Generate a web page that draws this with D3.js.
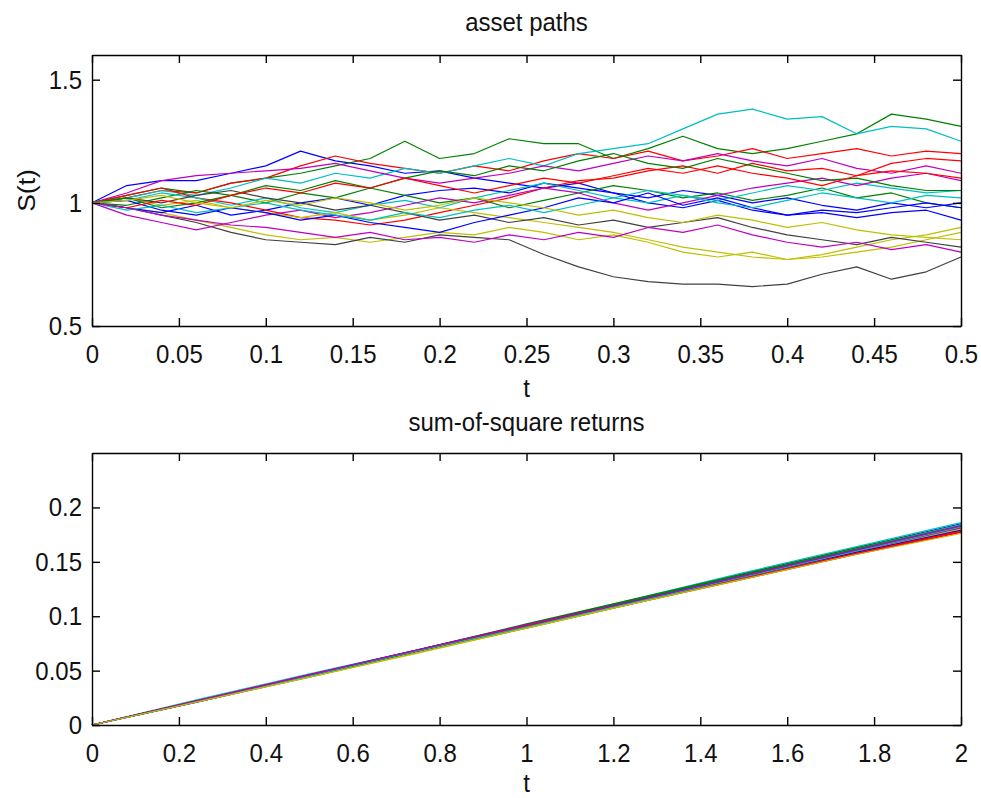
<!DOCTYPE html>
<html>
<head>
<meta charset="utf-8">
<script src="https://cdn.jsdelivr.net/npm/d3@7"></script>
<style>
  html, body { margin: 0; padding: 0; background: #fff; }
  svg { display: block; }
  text { font-family: "Liberation Sans", Arial, sans-serif; fill: #111; }
</style>
</head>
<body>
<svg id="chart" width="981" height="798"></svg>
<script>
// time grid of the asset paths (read every 0.02)
const tAsset = [0, 0.02, 0.04, 0.06, 0.08, 0.1, 0.12, 0.14, 0.16, 0.18, 0.2, 0.22, 0.24,
  0.26, 0.28, 0.3, 0.32, 0.34, 0.36, 0.38, 0.4, 0.42, 0.44, 0.46, 0.48, 0.5];

// S(t) for each of the 20 paths
const assetPaths = [
  [1.0, 1.07, 1.09, 1.09, 1.12, 1.15, 1.21, 1.17, 1.15, 1.12, 1.13, 1.10, 1.08, 1.06, 1.08, 1.04, 1.02, 1.05, 1.03, 1.00, 1.02, 0.99, 0.97, 1.00, 0.98, 1.00],
  [1.0, 1.03, 1.06, 1.04, 1.08, 1.1, 1.12, 1.15, 1.18, 1.25, 1.18, 1.2, 1.26, 1.24, 1.24, 1.18, 1.22, 1.27, 1.22, 1.2, 1.22, 1.25, 1.28, 1.36, 1.34, 1.31],
  [1.0, 1.02, 1.05, 1.04, 1.08, 1.1, 1.15, 1.19, 1.16, 1.14, 1.12, 1.15, 1.13, 1.17, 1.2, 1.18, 1.21, 1.17, 1.19, 1.22, 1.18, 1.2, 1.22, 1.19, 1.21, 1.20],
  [1.0, 1.02, 1.05, 1.03, 1.06, 1.1, 1.08, 1.12, 1.1, 1.14, 1.12, 1.15, 1.18, 1.15, 1.2, 1.22, 1.24, 1.3, 1.36, 1.38, 1.34, 1.35, 1.28, 1.31, 1.30, 1.25],
  [1.0, 1.04, 1.09, 1.11, 1.12, 1.13, 1.14, 1.16, 1.13, 1.1, 1.08, 1.1, 1.12, 1.15, 1.13, 1.16, 1.19, 1.17, 1.2, 1.17, 1.15, 1.18, 1.14, 1.12, 1.15, 1.12],
  [1.0, 0.98, 0.96, 0.93, 0.9, 0.87, 0.85, 0.86, 0.84, 0.86, 0.88, 0.87, 0.9, 0.88, 0.85, 0.87, 0.84, 0.8, 0.78, 0.8, 0.77, 0.79, 0.82, 0.85, 0.87, 0.90],
  [1.0, 0.98, 0.95, 0.92, 0.88, 0.85, 0.84, 0.83, 0.86, 0.84, 0.87, 0.86, 0.85, 0.79, 0.74, 0.70, 0.68, 0.67, 0.67, 0.66, 0.67, 0.71, 0.74, 0.69, 0.72, 0.78],
  [1.0, 0.98, 0.96, 0.99, 0.95, 0.97, 1.0, 1.02, 0.99, 1.03, 1.05, 1.06, 1.04, 1.08, 1.06, 1.04, 1.0, 0.98, 1.01, 0.97, 0.95, 0.96, 0.94, 0.96, 0.97, 0.93],
  [1.0, 0.99, 1.02, 1.05, 1.03, 1.0, 1.04, 1.02, 1.06, 1.03, 1.0, 1.02, 0.98, 1.01, 1.04, 1.07, 1.05, 1.02, 1.04, 1.01, 1.03, 1.06, 1.02, 1.04, 1.0, 0.98],
  [1.0, 1.03, 1.06, 1.02, 1.0, 0.97, 0.94, 0.93, 0.91, 0.93, 0.96, 0.99, 1.02, 1.06, 1.09, 1.1, 1.13, 1.15, 1.12, 1.16, 1.13, 1.14, 1.11, 1.16, 1.18, 1.17],
  [1.0, 1.01, 1.04, 1.02, 0.99, 1.02, 0.98, 0.96, 0.99, 1.01, 0.98, 1.02, 1.05, 1.08, 1.05, 1.02, 1.0, 1.03, 1.01, 1.04, 1.07, 1.05, 1.08, 1.06, 1.04, 1.05],
  [1.0, 0.95, 0.92, 0.89, 0.92, 0.95, 0.97, 0.94, 0.96, 0.99, 1.02, 1.0, 1.03, 1.06, 1.04, 1.0, 0.97, 1.0, 1.03, 1.06, 1.08, 1.1, 1.07, 1.1, 1.12, 1.09],
  [1.0, 1.02, 0.99, 1.01, 0.98, 0.96, 0.94, 0.96, 0.93, 0.95, 0.98, 0.96, 0.94, 0.92, 0.9, 0.88, 0.85, 0.82, 0.8, 0.78, 0.77, 0.78, 0.8, 0.82, 0.85, 0.88],
  [1.0, 1.02, 1.0, 1.03, 1.05, 1.02, 1.0, 0.97, 0.99, 0.96, 0.93, 0.95, 0.92, 0.94, 0.91, 0.93, 0.9, 0.92, 0.94, 0.9, 0.87, 0.85, 0.83, 0.86, 0.84, 0.82],
  [1.0, 1.01, 0.97, 0.95, 0.98, 0.96, 0.93, 0.95, 0.92, 0.90, 0.88, 0.92, 0.95, 0.98, 1.02, 1.0, 1.04, 0.99, 1.02, 0.98, 0.95, 0.97, 0.96, 0.98, 1.0, 0.98],
  [1.0, 1.02, 0.98, 1.0, 1.03, 1.07, 1.05, 1.09, 1.06, 1.1, 1.13, 1.11, 1.15, 1.13, 1.17, 1.2, 1.16, 1.14, 1.18, 1.15, 1.12, 1.09, 1.1, 1.07, 1.05, 1.05],
  [1.0, 0.98, 1.01, 0.99, 1.03, 1.06, 1.04, 1.08, 1.06, 1.1, 1.07, 1.04, 1.07, 1.1, 1.08, 1.11, 1.14, 1.12, 1.15, 1.12, 1.1, 1.07, 1.11, 1.13, 1.12, 1.10],
  [1.0, 0.97, 0.99, 0.96, 0.98, 1.0, 0.97, 0.95, 0.93, 0.96, 0.94, 0.97, 0.99, 0.96, 0.99, 1.02, 1.05, 1.03, 1.0, 0.98, 1.01, 1.04, 1.02, 1.0, 1.03, 1.02],
  [1.0, 0.98, 0.95, 0.93, 0.91, 0.9, 0.88, 0.86, 0.88, 0.85, 0.86, 0.84, 0.87, 0.85, 0.88, 0.86, 0.9, 0.88, 0.91, 0.87, 0.84, 0.82, 0.84, 0.81, 0.83, 0.80],
  [1.0, 1.01, 1.03, 1.0, 0.98, 1.01, 0.99, 1.02, 1.0, 0.97, 0.99, 1.02, 1.0, 0.98, 0.95, 0.97, 0.94, 0.92, 0.95, 0.93, 0.9, 0.92, 0.89, 0.87, 0.86, 0.85]
];

// time grid of the sum-of-square returns
const tSumSq = [0, 0.25, 0.5, 0.75, 1, 1.25, 1.5, 1.75, 2];

const sumSqPaths = [
  [0, .023, .046, .069, .092, .115, .139, .162, .185],
  [0, .022, .045, .068, .090, .113, .136, .158, .180],
  [0, .023, .045, .067, .090, .114, .136, .157, .178],
  [0, .024, .047, .069, .092, .116, .140, .163, .186],
  [0, .022, .044, .067, .090, .112, .135, .157, .179],
  [0, .023, .046, .068, .091, .114, .137, .160, .182],
  [0, .022, .045, .068, .091, .113, .136, .158, .181],
  [0, .023, .045, .068, .090, .113, .137, .160, .183],
  [0, .023, .046, .069, .093, .116, .139, .162, .184],
  [0, .022, .045, .067, .089, .112, .134, .156, .177],
  [0, .023, .046, .068, .091, .115, .138, .161, .184],
  [0, .023, .045, .068, .091, .114, .136, .159, .181],
  [0, .022, .044, .067, .089, .112, .135, .158, .180],
  [0, .023, .046, .069, .092, .115, .138, .160, .182],
  [0, .022, .045, .068, .091, .114, .136, .158, .179],
  [0, .023, .045, .068, .091, .115, .138, .161, .183],
  [0, .023, .046, .068, .091, .113, .135, .157, .178],
  [0, .022, .045, .068, .090, .113, .136, .159, .182],
  [0, .023, .046, .069, .092, .114, .137, .160, .183],
  [0, .022, .044, .066, .089, .112, .134, .156, .176]
];

// matlab default colour order: b g r c m y k
const lineColors = ['#0000ff', '#008000', '#ff0000', '#00bfbf', '#bf00bf', '#bfbf00', '#404040'];

const topXTicks = [0, 0.05, 0.1, 0.15, 0.2, 0.25, 0.3, 0.35, 0.4, 0.45, 0.5];
const topYTicks = [0.5, 1, 1.5];
const botXTicks = [0, 0.2, 0.4, 0.6, 0.8, 1, 1.2, 1.4, 1.6, 1.8, 2];
const botYTicks = [0, 0.05, 0.1, 0.15, 0.2];

// picture is stretched vertically, so draw in a squashed viewBox
const SY = 1.1;
const W = 981, H = 798 / SY;
const svg = d3.select('#chart')
  .attr('viewBox', `0 0 ${W} ${H}`)
  .attr('preserveAspectRatio', 'none');

const left = 92, right = 961;
const tickX = 8, tickY = 8 / SY;

function drawPanel(o) {
  const x = d3.scaleLinear().domain(o.xDomain).range([left, right]);
  const y = d3.scaleLinear().domain(o.yDomain).range([o.bottom, o.top]);
  const g = svg.append('g');

  const fmt = d3.format('~g');

  // lines
  const line = d3.line().x((d, i) => x(o.t[i])).y(d => y(d));
  g.append('g')
    .selectAll('path')
    .data(o.paths)
    .join('path')
    .attr('d', line)
    .attr('fill', 'none')
    .attr('stroke', (d, i) => lineColors[i % lineColors.length])
    .attr('stroke-width', 1.2)
    .attr('stroke-linejoin', 'round')
    .style('vector-effect', 'non-scaling-stroke');

  // axes with inward ticks (box on)
  const xb = g.append('g').attr('transform', `translate(0,${o.bottom})`)
    .call(d3.axisBottom(x).tickValues(o.xTicks).tickFormat(fmt)
      .tickSizeInner(-tickY).tickSizeOuter(0).tickPadding(16.5));
  const xt = g.append('g').attr('transform', `translate(0,${o.top})`)
    .call(d3.axisTop(x).tickValues(o.xTicks).tickFormat('')
      .tickSizeInner(-tickY).tickSizeOuter(0));
  const yl = g.append('g').attr('transform', `translate(${left},0)`)
    .call(d3.axisLeft(y).tickValues(o.yTicks).tickFormat(fmt)
      .tickSizeInner(-tickX).tickSizeOuter(0).tickPadding(10));
  const yr = g.append('g').attr('transform', `translate(${right},0)`)
    .call(d3.axisRight(y).tickValues(o.yTicks).tickFormat('')
      .tickSizeInner(-tickX).tickSizeOuter(0));

  [xb, xt, yl, yr].forEach(a => {
    a.selectAll('path.domain').attr('stroke', '#000').attr('stroke-width', 1.4)
      .style('vector-effect', 'non-scaling-stroke');
    a.selectAll('line').attr('stroke', '#000').attr('stroke-width', 1.4)
      .style('vector-effect', 'non-scaling-stroke');
    a.selectAll('text').attr('font-size', 24)
      .attr('font-family', '"Liberation Sans", Arial, sans-serif').attr('fill', '#111');
  });

  // title and x label
  g.append('text')
    .attr('x', (left + right) / 2).attr('y', o.titleY)
    .attr('text-anchor', 'middle').attr('font-size', 24)
    .text(o.title);
  g.append('text')
    .attr('x', (left + right) / 2).attr('y', o.xLabelY)
    .attr('text-anchor', 'middle').attr('font-size', 24)
    .text('t');

  if (o.yLabel) {
    g.append('text')
      .attr('transform', `translate(35,${(o.top + o.bottom) / 2}) rotate(-90)`)
      .attr('text-anchor', 'middle').attr('font-size', 24)
      .text(o.yLabel);
  }
}

drawPanel({
  t: tAsset, paths: assetPaths,
  xDomain: [0, 0.5], yDomain: [0.5, 1.6],
  top: 55 / SY, bottom: 326 / SY,
  xTicks: topXTicks, yTicks: topYTicks,
  title: 'asset paths', titleY: 31.5 / SY, xLabelY: 397 / SY,
  yLabel: 'S(t)'
});

drawPanel({
  t: tSumSq, paths: sumSqPaths,
  xDomain: [0, 2], yDomain: [0, 0.25],
  top: 453 / SY, bottom: 725 / SY,
  xTicks: botXTicks, yTicks: botYTicks,
  title: 'sum-of-square returns', titleY: 431.5 / SY, xLabelY: 792 / SY
});
</script>
</body>
</html>
